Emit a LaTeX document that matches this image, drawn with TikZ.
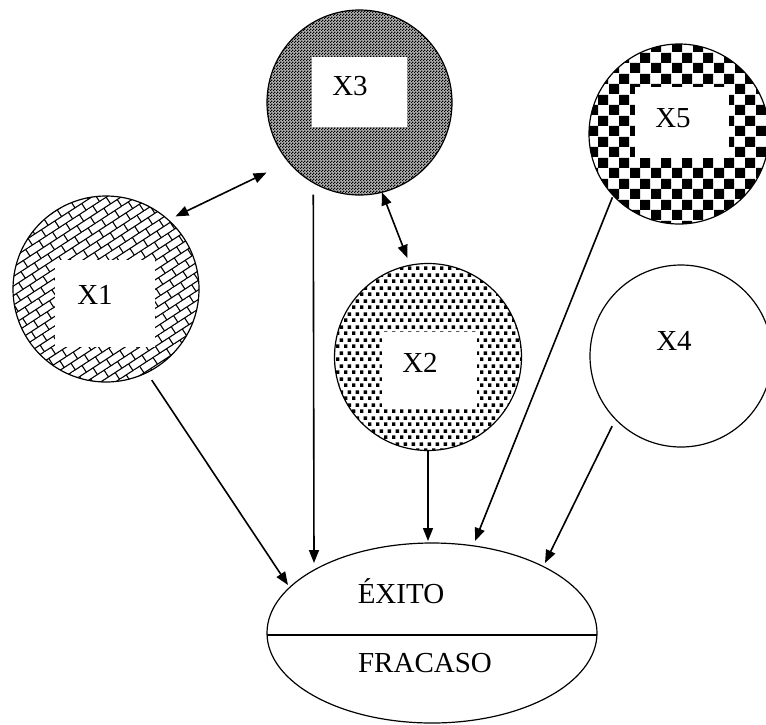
\documentclass[tikz,border=0pt]{standalone}
\usepackage{fontspec}
\setmainfont{Liberation Serif}
\usetikzlibrary{arrows.meta,patterns.meta,shapes.geometric}

% diagonal brick work
\tikzdeclarepattern{
  name=diagbricks,
  type=uncolored,
  bottom left={(-0.6pt,-0.6pt)},
  top right={(16.6pt,16.6pt)},
  tile size={(16pt,16pt)},
  tile transformation={rotate=33},
  code={
    \draw[line width=1.1pt] (0pt,0pt) -- (16pt,0pt)
      (0pt,8pt) -- (16pt,8pt)
      (0pt,0pt) -- (0pt,8pt)
      (8pt,8pt) -- (8pt,16pt);
  }
}
% very fine checks, reads as dark grey
\tikzdeclarepattern{
  name=finechecks,
  type=uncolored,
  bottom left={(0pt,0pt)},
  top right={(3pt,3pt)},
  tile size={(3pt,3pt)},
  code={
    \fill (0pt,0pt) rectangle (1.6pt,1.6pt);
    \fill (1.5pt,1.5pt) rectangle (3pt,3pt);
  }
}
% small staggered squares
\tikzdeclarepattern{
  name=smallsquares,
  type=uncolored,
  bottom left={(0pt,0pt)},
  top right={(8pt,13pt)},
  tile size={(8pt,13pt)},
  code={
    \fill (0pt,0pt) rectangle (3.9pt,3.9pt);
    \fill (4pt,6.5pt) rectangle (7.9pt,10.4pt);
  }
}
% large checkerboard
\tikzdeclarepattern{
  name=bigchecks,
  type=uncolored,
  bottom left={(0pt,0pt)},
  top right={(21pt,21pt)},
  tile size={(21pt,21pt)},
  code={
    \fill (0pt,0pt) rectangle (10.5pt,10.5pt);
    \fill (10.5pt,10.5pt) rectangle (21pt,21pt);
  }
}

\begin{document}
\begin{tikzpicture}[x=1pt,y=-1pt,
  blob/.style={circle, draw, line width=1.2pt, minimum size=#1,
    inner sep=0pt, outer sep=0pt},
  hole/.style={fill=white, draw=none, inner sep=0pt, outer sep=0pt},
  lbl/.style={anchor=base, inner sep=0pt, font=\fontsize{29}{34}\selectfont},
  conn/.style={line width=1.6pt, -{Triangle[length=13pt,width=10pt]}},
  both/.style={line width=1.6pt, {Triangle[length=13pt,width=10pt]}-{Triangle[length=13pt,width=10pt]}}]

\useasboundingbox (0,0) rectangle (766,724);

% factor circles
\node[blob=186pt, pattern=diagbricks]   (x1) at (106,289)   {};
\node[blob=185pt, preaction={fill=black!30}, pattern=finechecks] (x3) at (359.5,102.5) {};
\node[blob=187pt, pattern=smallsquares] (x2) at (428,357)   {};
\node[blob=180pt, pattern=bigchecks]    (x5) at (679,134)   {};
\node[blob=182pt]                       (x4) at (681,356)   {};

% blank label fields
\node[hole, minimum width=100pt, minimum height=87pt] (h1) at (105,303.5) {};
\node[hole, minimum width=95pt,  minimum height=70pt] (h3) at (359.5,92) {};
\node[hole, minimum width=95pt,  minimum height=75pt] (h2) at (429.5,369.5) {};
\node[hole, minimum width=94pt,  minimum height=71pt] (h5) at (682,122.5) {};

\node[lbl] (t1) at (95,304)  {X1};
\node[lbl] (t3) at (350,95)  {X3};
\node[lbl] (t2) at (420,372) {X2};
\node[lbl] (t5) at (673,127) {X5};
\node[lbl] (t4) at (674,350) {X4};

% outcome
\node[ellipse, draw, line width=1.2pt, minimum width=330pt, minimum height=180pt,
  inner sep=0pt, outer sep=0pt] (ell) at (432,633) {};
\draw[line width=1.2pt] ([yshift=-2pt]ell.west) -- ([yshift=-2pt]ell.east);
\node[lbl] (ok)   at (401,603) {ÉXITO};
\node[lbl] (fail) at (425,672) {FRACASO};

% arrow ends that stop short of the outcome
\coordinate (e3) at (314,563);
\coordinate (e1) at (288,585);
\coordinate (e5) at (475,541);
\coordinate (e4) at (545,563);

% relations
\draw[both, shorten <=8pt, shorten >=24.5pt] (x1.48.4) -- (x3.220.5);
\draw[both, shorten >=7.8pt] (x3.284.7) -- (x2.101.3);
\draw[conn, shorten <=12pt] (x3.240.5) -- (e3);
\draw[conn, shorten <=9pt] (x1.296.2) -- (e1);
\draw[conn, shorten >=2pt] (x2.south) -- (x2.south |- ell.north);
\draw[conn, shorten <=2pt] (x5.223.2) -- (e5);
\draw[conn, shorten <=7.7pt] (x4.224.8) -- (e4);
\end{tikzpicture}
\end{document}
